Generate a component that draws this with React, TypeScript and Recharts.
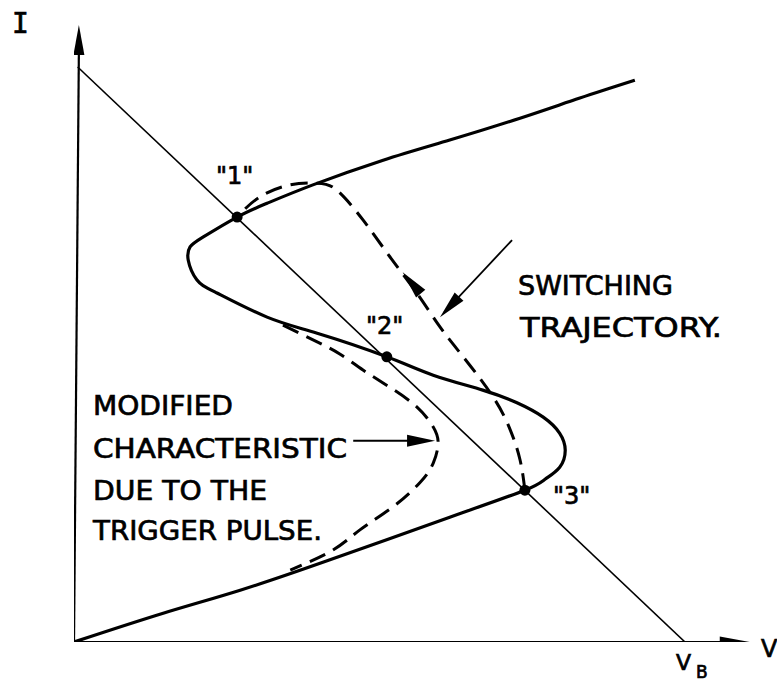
import { ComposedChart, Line, Scatter, XAxis, YAxis } from 'recharts';

// V in units of V_B/10, I in units of the load-line intercept/10
const loadLine = [
  { x: 0.06, y: 10 },
  { x: 10, y: 0 },
];

const characteristic = [
  { x: 0, y: 0 }, { x: 1.46, y: 0.5 }, { x: 2.72, y: 0.9 }, { x: 4.19, y: 1.43 },
  { x: 6.15, y: 2.17 }, { x: 7.38, y: 2.64 }, { x: 7.71, y: 2.83 }, { x: 7.95, y: 3.04 },
  { x: 8.04, y: 3.34 }, { x: 7.95, y: 3.63 }, { x: 7.68, y: 3.91 }, { x: 7.25, y: 4.16 },
  { x: 6.69, y: 4.38 }, { x: 5.88, y: 4.64 }, { x: 5.12, y: 4.96 }, { x: 3.98, y: 5.37 },
  { x: 3.16, y: 5.65 }, { x: 2.34, y: 6.07 }, { x: 2.01, y: 6.3 }, { x: 1.87, y: 6.64 },
  { x: 1.9, y: 6.87 }, { x: 2.11, y: 7.04 }, { x: 2.67, y: 7.39 }, { x: 3.16, y: 7.63 },
  { x: 3.91, y: 7.95 }, { x: 5.06, y: 8.38 }, { x: 6.15, y: 8.73 }, { x: 7.3, y: 9.11 },
  { x: 8.28, y: 9.46 }, { x: 9.18, y: 9.77 },
];

const modified = [
  { x: 3.42, y: 5.51 }, { x: 3.98, y: 5.22 }, { x: 4.35, y: 5.01 }, { x: 4.73, y: 4.73 },
  { x: 5.17, y: 4.43 }, { x: 5.61, y: 4.09 }, { x: 5.88, y: 3.74 }, { x: 5.96, y: 3.46 },
  { x: 5.88, y: 3.11 }, { x: 5.66, y: 2.77 }, { x: 5.22, y: 2.35 }, { x: 4.68, y: 1.95 },
  { x: 4.24, y: 1.6 }, { x: 3.54, y: 1.25 },
];

const trajectory = [
  { x: 7.38, y: 2.64 }, { x: 7.3, y: 3.17 }, { x: 7.14, y: 3.69 }, { x: 6.86, y: 4.26 },
  { x: 6.37, y: 4.96 }, { x: 5.99, y: 5.48 }, { x: 5.61, y: 6.07 }, { x: 5.17, y: 6.7 },
  { x: 4.73, y: 7.34 }, { x: 4.3, y: 7.86 }, { x: 3.98, y: 7.98 }, { x: 3.54, y: 7.95 },
  { x: 3.04, y: 7.74 }, { x: 2.67, y: 7.39 },
];

const iAxis = [{ x: 0, y: 0 }, { x: 0.08, y: 10.3 }];
const vAxis = [{ x: 0, y: 0 }, { x: 10.7, y: 0 }];
const switchingPointer = [{ x: 7.17, y: 6.99 }, { x: 6.05, y: 5.72 }];
const modifiedPointer = [{ x: 4.57, y: 3.5 }, { x: 5.7, y: 3.5 }];

const operatingPoints = [
  { x: 2.67, y: 7.39 },
  { x: 5.12, y: 4.96 },
  { x: 7.38, y: 2.64 },
];

// arrow tips, angle in screen degrees (0 = right)
const axisArrows = [
  { x: 0.08, y: 10.73, angle: -90 },
  { x: 11.06, y: 0, angle: 0 },
];
const pointerArrows = [
  { x: 5.99, y: 5.65, angle: 133 },
  { x: 5.91, y: 3.5, angle: 0 },
  { x: 5.38, y: 6.43, angle: -130 },
];

const arrowShape = (len: number, w: number) => (props: any) => {
  const { cx, cy, payload } = props;
  return (
    <polygon
      points={`0,0 ${-len},${-w / 2} ${-len},${w / 2}`}
      transform={`translate(${cx},${cy}) rotate(${payload.angle})`}
      fill="#000"
    />
  );
};

const dotShape = (props: any) => <circle cx={props.cx} cy={props.cy} r={5.5} fill="#000" />;

const font = '"DejaVu Sans", sans-serif';

export default function App() {
  return (
    <div style={{ position: 'absolute', left: 0, top: 0, width: 777, height: 682, background: '#fff' }}>
      <ComposedChart width={777} height={682} margin={{ top: 9.5, right: 6.5, left: 74, bottom: 40 }}>
        <XAxis type="number" dataKey="x" domain={[0, 11.4]} hide allowDataOverflow />
        <YAxis type="number" dataKey="y" domain={[0, 11]} hide allowDataOverflow />
        <Line data={iAxis} dataKey="y" stroke="#000" strokeWidth={2.2} dot={false} activeDot={false} isAnimationActive={false} />
        <Line data={vAxis} dataKey="y" stroke="#000" strokeWidth={2.2} dot={false} activeDot={false} isAnimationActive={false} />
        <Line data={loadLine} dataKey="y" stroke="#000" strokeWidth={1.6} dot={false} activeDot={false} isAnimationActive={false} />
        <Line data={characteristic} type="natural" dataKey="y" stroke="#000" strokeWidth={3.2} dot={false} activeDot={false} isAnimationActive={false} />
        <Line data={modified} type="natural" dataKey="y" stroke="#000" strokeWidth={3} strokeDasharray="17 9" dot={false} activeDot={false} isAnimationActive={false} />
        <Line data={trajectory} type="natural" dataKey="y" stroke="#000" strokeWidth={3} strokeDasharray="17 9" dot={false} activeDot={false} isAnimationActive={false} />
        <Line data={switchingPointer} dataKey="y" stroke="#000" strokeWidth={1.8} dot={false} activeDot={false} isAnimationActive={false} />
        <Line data={modifiedPointer} dataKey="y" stroke="#000" strokeWidth={1.8} dot={false} activeDot={false} isAnimationActive={false} />
        <Scatter data={axisArrows} shape={arrowShape(30, 11)} isAnimationActive={false} />
        <Scatter data={pointerArrows} shape={arrowShape(28, 12)} isAnimationActive={false} />
        <Scatter data={operatingPoints} shape={dotShape} isAnimationActive={false} />
      </ComposedChart>
      <svg width={777} height={682} style={{ position: 'absolute', left: 0, top: 0, pointerEvents: 'none' }}>
        <g fontFamily={font} fill="#000" stroke="#000" strokeWidth={0.7}>
          <text x={12} y={33} fontSize={28} fontFamily='"DejaVu Sans Mono", monospace'>I</text>
          <text x={761} y={657} fontSize={24}>V</text>
          <text x={676} y={670} fontSize={22}>V</text>
          <text x={696} y={678} fontSize={17}>B</text>
          <text x={216} y={184} fontSize={24}>"1"</text>
          <text x={366} y={334} fontSize={24}>"2"</text>
          <text x={553} y={504} fontSize={24}>"3"</text>
          <text x={518} y={295} fontSize={27} textLength={155} lengthAdjust="spacingAndGlyphs">SWITCHING</text>
          <text x={520} y={337} fontSize={27} textLength={202} lengthAdjust="spacingAndGlyphs">TRAJECTORY.</text>
          <text x={93} y={415} fontSize={27} textLength={140} lengthAdjust="spacingAndGlyphs">MODIFIED</text>
          <text x={93} y={458} fontSize={27} textLength={254} lengthAdjust="spacingAndGlyphs">CHARACTERISTIC</text>
          <text x={93} y={500} fontSize={27} textLength={174} lengthAdjust="spacingAndGlyphs">DUE TO THE</text>
          <text x={93} y={540} fontSize={27} textLength={229} lengthAdjust="spacingAndGlyphs">TRIGGER PULSE.</text>
        </g>
      </svg>
    </div>
  );
}
